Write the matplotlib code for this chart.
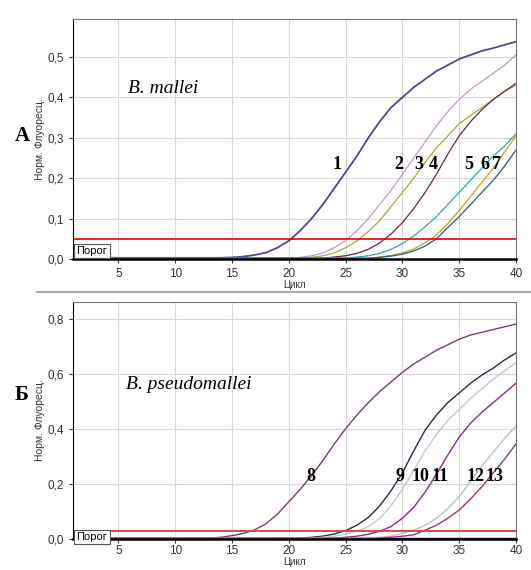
import numpy as np
import matplotlib
matplotlib.use("Agg")
import matplotlib.pyplot as plt

plt.rcParams['font.family'] = ['Liberation Sans', 'DejaVu Sans']

cycles = np.arange(1, 41)

# --- panel A: B. mallei (norm. fluorescence per cycle)
mallei_1 = [0.003] * 14 + [0.004, 0.006, 0.010, 0.016, 0.028, 0.045, 0.07, 0.10, 0.135, 0.175,
                           0.215, 0.255, 0.30, 0.34, 0.375, 0.40, 0.425, 0.445, 0.465, 0.48,
                           0.495, 0.505, 0.515, 0.522, 0.53, 0.538]
mallei_2 = [0.002] * 20 + [0.004, 0.008, 0.015, 0.028, 0.045, 0.07, 0.10, 0.135, 0.17, 0.21,
                           0.25, 0.29, 0.33, 0.365, 0.395, 0.42, 0.44, 0.46, 0.48, 0.505]
mallei_3 = [0.002] * 21 + [0.004, 0.008, 0.015, 0.028, 0.045, 0.068, 0.095, 0.13, 0.165,
                           0.20, 0.24, 0.275, 0.305, 0.335, 0.355, 0.375, 0.395, 0.415, 0.43]
mallei_4 = [0.002] * 23 + [0.005, 0.008, 0.014, 0.024, 0.04, 0.062, 0.09, 0.125, 0.165,
                           0.21, 0.26, 0.305, 0.34, 0.37, 0.395, 0.415, 0.435]
mallei_5 = [0.002] * 25 + [0.005, 0.008, 0.014, 0.024, 0.038, 0.057, 0.08, 0.105, 0.135,
                           0.165, 0.195, 0.225, 0.255, 0.28, 0.31]
mallei_6 = [0.002] * 27 + [0.005, 0.009, 0.015, 0.025, 0.04, 0.06, 0.088, 0.12, 0.155,
                           0.19, 0.225, 0.265, 0.305]
mallei_7 = [0.002] * 27 + [0.004, 0.007, 0.012, 0.02, 0.032, 0.05, 0.078, 0.105, 0.135,
                           0.165, 0.195, 0.23, 0.27]
mallei_neg = [0.0] * 40
mallei_threshold = 0.05

# --- panel Б: B. pseudomallei
pseudo_8 = [0.003] * 12 + [0.003, 0.006, 0.012, 0.02, 0.033, 0.055, 0.09, 0.135, 0.18, 0.23,
                           0.285, 0.345, 0.40, 0.45, 0.495, 0.535, 0.57, 0.605, 0.635, 0.66,
                           0.685, 0.705, 0.725, 0.74, 0.75, 0.76, 0.77, 0.78]
pseudo_9 = [0.002] * 20 + [0.003, 0.006, 0.01, 0.018, 0.03, 0.05, 0.078, 0.12, 0.175, 0.24,
                           0.32, 0.395, 0.45, 0.495, 0.53, 0.565, 0.595, 0.62, 0.65, 0.675]
pseudo_10 = [0.002] * 21 + [0.003, 0.006, 0.01, 0.017, 0.028, 0.045, 0.075, 0.12, 0.18,
                            0.25, 0.32, 0.38, 0.43, 0.47, 0.51, 0.545, 0.58, 0.61, 0.64]
pseudo_11 = [0.002] * 23 + [0.003, 0.006, 0.01, 0.017, 0.028, 0.045, 0.075, 0.115, 0.17,
                            0.235, 0.305, 0.37, 0.42, 0.46, 0.495, 0.53, 0.565]
pseudo_12 = [0.002] * 26 + [0.003, 0.006, 0.01, 0.02, 0.032, 0.05, 0.075, 0.11, 0.154,
                            0.21, 0.265, 0.315, 0.365, 0.41]
pseudo_13 = [0.002] * 27 + [0.003, 0.006, 0.01, 0.015, 0.032, 0.05, 0.075, 0.105, 0.145,
                            0.19, 0.24, 0.29, 0.345]
pseudo_neg = [0.0] * 40
pseudo_threshold = 0.03

top_series = [mallei_1, mallei_2, mallei_3, mallei_4, mallei_5, mallei_6, mallei_7]
top_colors = ['#4b4b8f', '#c896c8', '#a8a832', '#7a2040', '#28a8b0', '#c8a020', '#1f5f7f']
top_labels = ['1', '2', '3', '4', '5', '6', '7']
top_label_x = [24.2, 29.7, 31.4, 32.75, 35.8, 37.3, 38.3]

bot_series = [pseudo_8, pseudo_9, pseudo_10, pseudo_11, pseudo_12, pseudo_13]
bot_colors = ['#7a3a7a', '#2a2a48', '#c8c8c8', '#8a2a8a', '#c0c0c0', '#8a3a7a']
bot_labels = ['8', '9', '10', '11', '12', '13']
bot_label_x = [21.9, 29.8, 31.6, 33.3, 36.4, 38.1]

SERIF = ['Liberation Serif', 'DejaVu Serif']

fig = plt.figure(figsize=(5.31, 5.70), dpi=100)
ax1 = fig.add_axes([0.1375, 0.5456, 0.8343, 0.4211])
ax2 = fig.add_axes([0.1375, 0.0545, 0.8343, 0.4162])


def style_axes(ax, ymax, yticks, xpad, tpad):
    ax.set_xlim(1, 40)
    ax.set_ylim(0, ymax)
    ax.set_xticks([5, 10, 15, 20, 25, 30, 35, 40])
    ax.set_yticks(yticks)
    ax.set_yticklabels([f"{t:.1f}".replace('.', ',') for t in yticks])
    ax.grid(True, color='#d8d8d8', lw=0.8)
    ax.set_axisbelow(True)
    ax.tick_params(labelsize=8.5, colors='#333333', length=3)
    ax.tick_params(axis='x', pad=tpad)
    for s in ['top', 'right']:
        ax.spines[s].set_color('#777777')
    ax.spines['left'].set_color('black')
    ax.spines['bottom'].set_color('black')
    ax.spines['bottom'].set_linewidth(1.8)
    ax.set_xlabel('Цикл', fontsize=7, labelpad=xpad, color='#333333')
    ax.set_ylabel('Норм. Флуоресц.', fontsize=7.5, labelpad=2, color='#333333')


style_axes(ax1, 0.594, [0.0, 0.1, 0.2, 0.3, 0.4, 0.5], 0, 3.5)
style_axes(ax2, 0.861, [0.0, 0.2, 0.4, 0.6, 0.8], 0, 1.5)

# panel A
ax1.plot(cycles[:16], mallei_neg[:16], color='#1a2a6a', lw=2.5)
for vals, col in zip(top_series, top_colors):
    ax1.plot(cycles, vals, color=col, lw=1.3 if col == '#4b4b8f' else 0.9)
ax1.axhline(mallei_threshold, color='#ee0000', lw=1.2)
for lab, x in zip(top_labels, top_label_x):
    ax1.text(x, 0.233, lab, fontsize=13, fontweight='bold', family=SERIF,
             ha='center', va='center')
ax1.text(5.8, 0.423, 'B. mallei', fontsize=14, style='italic', family=SERIF,
         va='center')
ax1.text(0.008, 0.022, 'Порог', transform=ax1.transAxes, fontsize=8,
         bbox=dict(boxstyle='square,pad=0.2', fc='white', ec='#555555', lw=0.8))

# panel Б
ax2.plot(cycles, pseudo_neg, color='#1a2a7a', lw=2.5)
for vals, col in zip(bot_series, bot_colors):
    ax2.plot(cycles, vals, color=col, lw=1.0)
ax2.axhline(pseudo_threshold, color='#e04848', lw=1.4)
for lab, x in zip(bot_labels, bot_label_x):
    ax2.text(x, 0.228, lab, fontsize=13, fontweight='bold', family=SERIF,
             ha='center', va='center')
ax2.text(5.7, 0.561, 'B. pseudomallei', fontsize=14, style='italic', family=SERIF,
         va='center')
ax2.text(0.008, -0.005, 'Порог', transform=ax2.transAxes, fontsize=8,
         bbox=dict(boxstyle='square,pad=0.2', fc='white', ec='#555555', lw=0.8))

# panel letters and separator
fig.text(0.028, 0.761, 'А', fontsize=15, fontweight='bold', family=SERIF, va='center')
fig.text(0.028, 0.307, 'Б', fontsize=15, fontweight='bold', family=SERIF, va='center')
fig.add_artist(plt.Line2D([0.07, 1.0], [0.4877, 0.4877], transform=fig.transFigure,
                          color='#aaaaaa', lw=1.5))

fig.savefig('out.png', dpi=100)
